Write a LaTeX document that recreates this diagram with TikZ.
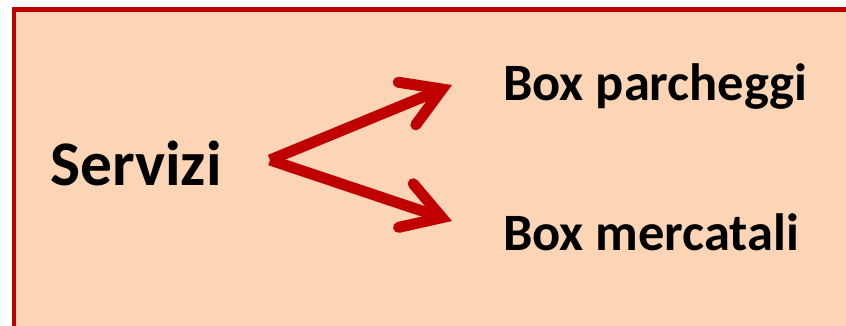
\documentclass[tikz,border=0pt]{standalone}
\usepackage{fontspec}
\setmainfont{Carlito}
\usetikzlibrary{arrows.meta}
\definecolor{boxred}{HTML}{C00000}
\definecolor{peach}{HTML}{FBD5B5}
\begin{document}
\begin{tikzpicture}[x=1pt,y=-1pt,
    label/.style={anchor=base west, inner sep=0pt, font=\bfseries\fontsize{52.5}{56}\selectfont},
    fork/.style={boxred, line width=11pt, line cap=butt,
        -{Straight Barb[length=38pt, width=46pt, line cap=round, line join=miter]}}]
    \useasboundingbox (0,0) rectangle (846,325);

    % Background box
    \fill[white] (0,0) rectangle (846,325);
    \draw[boxred, line width=4.5pt, fill=peach] (14,9.5) rectangle (870,345);

    % Texts
    \node[label, font=\bfseries\fontsize{63.5}{68}\selectfont] (servizi) at (50,185) {Servizi};
    \node[label] (parcheggi) at (503,100) {Box parcheggi};
    \node[label] (mercatali) at (503,250) {Box mercatali};

    % Arrows
    \coordinate (split) at (270,160);
    \coordinate (uptip) at (452,85);
    \coordinate (downtip) at (452,221);
    \draw[fork] (split) -- (uptip);
    \draw[fork] (split) -- (downtip);
\end{tikzpicture}
\end{document}
